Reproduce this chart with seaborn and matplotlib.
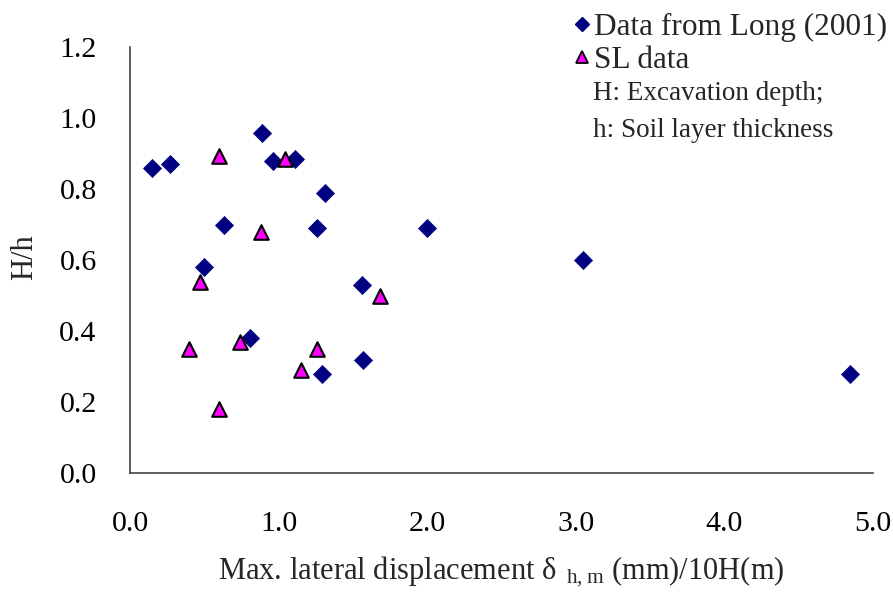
import matplotlib
matplotlib.use("Agg")
import matplotlib.pyplot as plt
import seaborn as sns
import pandas as pd
from matplotlib.lines import Line2D

# Data from Long (2001)
long_x = [0.15, 0.27, 0.89, 0.96, 1.11, 1.31, 0.63, 1.26, 2.00, 0.50, 1.56, 0.81, 1.57, 1.29, 3.05, 4.85]
long_y = [0.86, 0.87, 0.96, 0.88, 0.885, 0.79, 0.70, 0.69, 0.69, 0.58, 0.53, 0.38, 0.32, 0.28, 0.60, 0.28]
# SL data
sl_x = [0.60, 1.04, 0.88, 0.47, 1.68, 0.40, 0.74, 1.26, 1.15, 0.60]
sl_y = [0.895, 0.885, 0.68, 0.54, 0.50, 0.35, 0.37, 0.35, 0.29, 0.18]

x_ticks = [0.0, 1.0, 2.0, 3.0, 4.0, 5.0]
y_ticks = [0.0, 0.2, 0.4, 0.6, 0.8, 1.0, 1.2]
long_label = "Data from Long (2001)"
sl_label = "SL data"
note1 = "H: Excavation depth;"
note2 = "h: Soil layer thickness"

sns.set_style("white")
plt.rcParams["font.family"] = ["Liberation Serif", "DejaVu Serif"]
plt.rcParams["mathtext.fontset"] = "custom"
plt.rcParams["mathtext.rm"] = "Liberation Serif"

df_long = pd.DataFrame({"x": long_x, "y": long_y})
df_sl = pd.DataFrame({"x": sl_x, "y": sl_y})

fig = plt.figure(figsize=(8.93, 5.92), dpi=100)
ax = fig.add_axes([0.1456, 0.2005, 0.9773 - 0.1456, 0.920 - 0.2005])

sns.scatterplot(data=df_long, x="x", y="y", marker="D", s=85, color="#000080",
                edgecolor="#000080", linewidth=0.5, ax=ax, zorder=3)
sns.scatterplot(data=df_sl, x="x", y="y", marker="^", s=110, color="#ff00ff",
                edgecolor="black", linewidth=1.5, ax=ax, zorder=4)

ax.set_xlim(0, 5.0)
ax.set_ylim(0, 1.2)
ax.set_xticks(x_ticks)
ax.set_yticks(y_ticks)
ax.set_xticklabels([f"{v:.1f}" for v in x_ticks])
ax.set_yticklabels([f"{v:.1f}" for v in y_ticks])
ax.tick_params(axis="both", direction="in", length=10, width=1, labelsize=21.5,
               colors="black")
ax.tick_params(axis="x", pad=27)
ax.tick_params(axis="y", pad=24)
for s in ["top", "right"]:
    ax.spines[s].set_visible(False)
for s in ["left", "bottom"]:
    ax.spines[s].set_color("#444444")
    ax.spines[s].set_linewidth(1.2)

ax.set_xlabel(r"Max. lateral displacement δ$\mathregular{\ _{h,m}}$ (mm)/10H(m)",
              fontsize=22, va="center")
ax.xaxis.set_label_coords(0.5, -0.232)
ax.set_ylabel("H/h", fontsize=22, va="center")
ax.yaxis.set_label_coords(-0.1414, 0.508)

handles = [
    Line2D([], [], marker="D", linestyle="none", markersize=7, color="#000080",
           markeredgecolor="#000080", label=long_label),
    Line2D([], [], marker="^", linestyle="none", markersize=8, color="#ff00ff",
           markeredgecolor="black", markeredgewidth=1.3, label=sl_label),
]
fig.legend(handles=handles, loc="upper left", bbox_to_anchor=(0.629, 1.0),
           frameon=False, fontsize=22.5, handlelength=0.5, handletextpad=0.12,
           labelspacing=0.15, borderaxespad=0)
fig.text(0.664, 0.831, note1, fontsize=19.5, va="baseline", ha="left")
fig.text(0.664, 0.7686, note2, fontsize=19.5, va="baseline", ha="left")

fig.savefig("out.png", dpi=100)
